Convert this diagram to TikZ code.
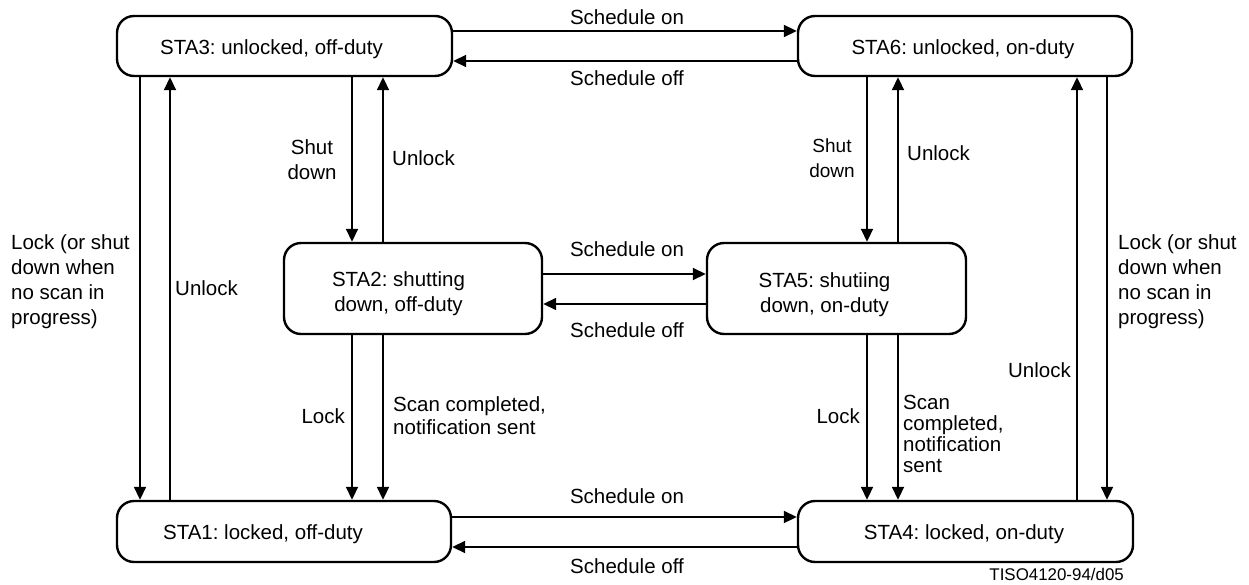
\documentclass[tikz,border=0pt]{standalone}
\usepackage{fontspec}
\setmainfont{Liberation Sans}
\usetikzlibrary{arrows.meta}
\frenchspacing
\begin{document}
\begin{tikzpicture}[x=1pt,y=-1pt,
  state/.style={draw, line width=2.4pt, rounded corners=17pt, inner sep=0pt},
  arr/.style={line width=1.8pt, -{Triangle[length=13pt,width=12pt]}},
  lbl/.style={inner sep=0pt, font=\fontsize{20.5}{25}\selectfont},
  ]
\useasboundingbox (0,0) rectangle (1249,585);
% states
\node[state, minimum width=335pt, minimum height=60pt] (sta3) at (284.5,46) {};
\node[lbl] (t3) at (271.5,49) {STA3: unlocked, off-duty};
\node[state, minimum width=334pt, minimum height=60pt] (sta6) at (965,46) {};
\node[lbl] (t6) at (963,49) {STA6: unlocked, on-duty};
\node[state, minimum width=258pt, minimum height=91pt] (sta2) at (413,288.5) {};
\node[lbl, align=center] (t2) at (398.5,294) {STA2: shutting\\down, off-duty};
\node[state, minimum width=259pt, minimum height=91pt] (sta5) at (836.5,288.5) {};
\node[lbl, align=center] (t5) at (824.5,295) {STA5: shutiing\\down, on-duty};
\node[state, minimum width=334pt, minimum height=61pt] (sta1) at (284,531.5) {};
\node[lbl] (t1) at (263,534) {STA1: locked, off-duty};
\node[state, minimum width=335pt, minimum height=61pt] (sta4) at (965.5,531.5) {};
\node[lbl] (t4) at (964,534) {STA4: locked, on-duty};
% horizontal transitions
\draw[arr] (sta3.east |- 0,31) -- (sta6.west |- 0,31);
\draw[arr] (sta6.west |- 0,61) -- (sta3.east |- 0,61);
\draw[arr] (sta2.east |- 0,274) -- (sta5.west |- 0,274);
\draw[arr] (sta5.west |- 0,304) -- (sta2.east |- 0,304);
\draw[arr] (sta1.east |- 0,517) -- (sta4.west |- 0,517);
\draw[arr] (sta4.west |- 0,547) -- (sta1.east |- 0,547);
% vertical transitions
\draw[arr] (sta3.south -| 140,0) -- (sta1.north -| 140,0);
\draw[arr] (sta1.north -| 170,0) -- (sta3.south -| 170,0);
\draw[arr] (sta3.south -| 352,0) -- (sta2.north -| 352,0);
\draw[arr] (sta2.south -| 352,0) -- (sta1.north -| 352,0);
\draw[arr] (sta2.north -| 383,0) -- (sta3.south -| 383,0);
\draw[arr] (sta2.south -| 383,0) -- (sta1.north -| 383,0);
\draw[arr] (sta6.south -| 867,0) -- (sta5.north -| 867,0);
\draw[arr] (sta5.south -| 867,0) -- (sta4.north -| 867,0);
\draw[arr] (sta5.north -| 898,0) -- (sta6.south -| 898,0);
\draw[arr] (sta5.south -| 898,0) -- (sta4.north -| 898,0);
\draw[arr] (sta4.north -| 1077,0) -- (sta6.south -| 1077,0);
\draw[arr] (sta6.south -| 1107,0) -- (sta4.north -| 1107,0);
% labels
\node[lbl] (l1) at (627,17) {Schedule on};
\node[lbl] (l2) at (627,78) {Schedule off};
\node[lbl] (l3) at (627,249) {Schedule on};
\node[lbl] (l4) at (627,330) {Schedule off};
\node[lbl] (l5) at (627,496) {Schedule on};
\node[lbl] (l6) at (627,566) {Schedule off};
\node[lbl, anchor=west, align=left] (l7) at (11,282) {Lock (or shut\\down when\\no scan in\\progress)};
\node[lbl, anchor=west] (l8) at (175,288) {Unlock};
\node[lbl, align=center] (l9) at (312,160) {Shut\\down};
\node[lbl, anchor=west] (l10) at (392,158) {Unlock};
\node[lbl, anchor=east] (l11) at (345,416) {Lock};
\node[lbl, anchor=west, align=left, font=\fontsize{20.5}{23}\selectfont] (l12) at (393,415.5) {Scan completed,\\notification sent};
\node[lbl, align=center, font=\fontsize{19}{25}\selectfont] (l13) at (832,158) {Shut\\down};
\node[lbl, anchor=west] (l14) at (907,153) {Unlock};
\node[lbl, anchor=east] (l15) at (860,416) {Lock};
\node[lbl, anchor=west, align=left, font=\fontsize{20.5}{21}\selectfont] (l16) at (903,433.5) {Scan\\completed,\\notification\\sent};
\node[lbl, anchor=east] (l17) at (1071,370) {Unlock};
\node[lbl, anchor=west, align=left] (l18) at (1118,281.5) {Lock (or shut\\down when\\no scan in\\progress)};
\node[lbl, anchor=east, font=\fontsize{16.9}{20}\selectfont] (l19) at (1124,574) {TISO4120-94/d05};
\end{tikzpicture}
\end{document}
